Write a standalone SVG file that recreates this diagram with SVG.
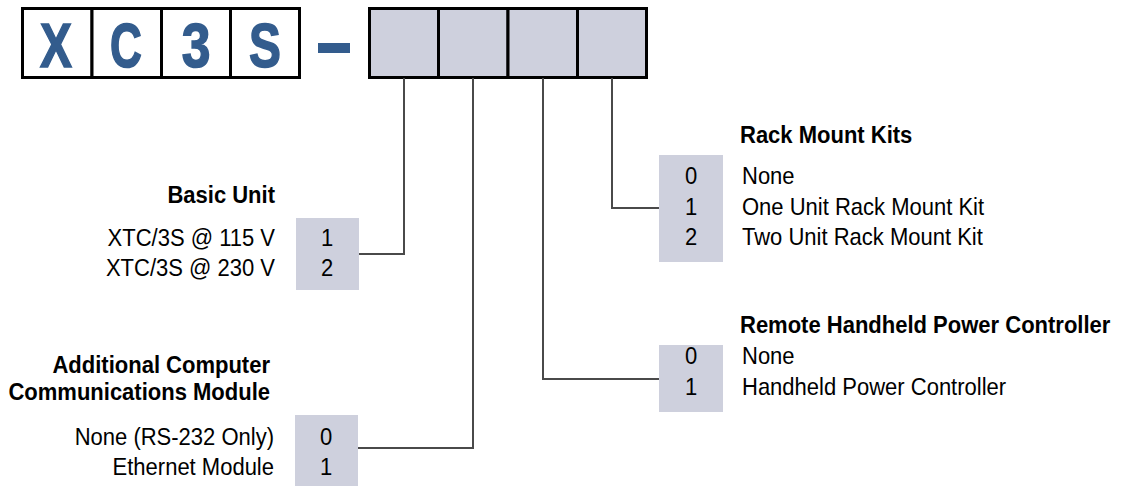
<svg xmlns="http://www.w3.org/2000/svg" width="1124" height="486" viewBox="0 0 1124 486">
  <style>
    .cell { fill: #ffffff; stroke: #000000; stroke-width: 3; }
    .slot { fill: #ced0dd; stroke: #000000; stroke-width: 3; }
    .opt { fill: #ced0dd; stroke: none; }
    .big { font-family: "Liberation Sans", Arial, sans-serif; font-weight: bold; font-size: 63px; fill: #335c8d; stroke: #335c8d; stroke-width: 1.6; text-anchor: middle; }
    .head { font-family: "Liberation Sans", Arial, sans-serif; font-weight: bold; font-size: 24px; fill: #000000; }
    .txt { font-family: "Liberation Sans", Arial, sans-serif; font-size: 24px; fill: #000000; }
    .num { font-family: "Liberation Sans", Arial, sans-serif; font-size: 24px; fill: #000000; text-anchor: middle; }
    .end { text-anchor: end; }
    .link { fill: none; stroke: #4a4a4a; stroke-width: 2; }
  </style>

  <!-- fixed model prefix XC3S -->
  <g id="prefix">
    <rect class="cell" x="22.5" y="8.5" width="69.5" height="69"/>
    <rect class="cell" x="92" y="8.5" width="69.5" height="69"/>
    <rect class="cell" x="161.5" y="8.5" width="69" height="69"/>
    <rect class="cell" x="230.5" y="8.5" width="69" height="69"/>
    <text class="big" transform="translate(56,67) scale(0.76,1)">X</text>
    <text class="big" transform="translate(126,67) scale(0.7,1)">C</text>
    <text class="big" transform="translate(196,67) scale(0.82,1)">3</text>
    <text class="big" transform="translate(265,67) scale(0.76,1)">S</text>
  </g>

  <g id="dash">
    <rect x="318" y="43" width="32" height="10" fill="#335c8d"/>
  </g>

  <!-- option slots -->
  <g id="slots">
    <rect class="slot" x="369.5" y="8.5" width="69" height="69"/>
    <rect class="slot" x="438.5" y="8.5" width="69.5" height="69"/>
    <rect class="slot" x="508" y="8.5" width="69.5" height="69"/>
    <rect class="slot" x="577.5" y="8.5" width="69" height="69"/>
  </g>

  <!-- connectors -->
  <g id="connectors">
    <path class="link" d="M404 78 V254 H359"/>
    <path class="link" d="M473 78 V448 H358"/>
    <path class="link" d="M543 78 V379 H659"/>
    <path class="link" d="M612 78 V208 H659"/>
  </g>

  <!-- labels use a narrowed face: 24px glyphs squeezed to 22px advance -->
  <g id="basic-unit">
    <text class="head end" transform="translate(275,203) scale(0.917,1)">Basic Unit</text>
    <rect class="opt" x="296" y="218" width="63" height="72"/>
    <text class="txt end" transform="translate(275,246) scale(0.917,1)">XTC/3S @ 115 V</text>
    <text class="txt end" transform="translate(275,276) scale(0.917,1)">XTC/3S @ 230 V</text>
    <text class="num" transform="translate(327,246) scale(0.917,1)">1</text>
    <text class="num" transform="translate(327,276) scale(0.917,1)">2</text>
  </g>

  <g id="comm-module">
    <text class="head end" transform="translate(270,373) scale(0.917,1)">Additional Computer</text>
    <text class="head end" transform="translate(270,400) scale(0.917,1)">Communications Module</text>
    <rect class="opt" x="295" y="415" width="63" height="71"/>
    <text class="txt end" transform="translate(274,445) scale(0.917,1)">None (RS-232 Only)</text>
    <text class="txt end" transform="translate(274,475) scale(0.917,1)">Ethernet Module</text>
    <text class="num" transform="translate(326,445) scale(0.917,1)">0</text>
    <text class="num" transform="translate(326,475) scale(0.917,1)">1</text>
  </g>

  <g id="rack-mount">
    <text class="head" transform="translate(740,143) scale(0.917,1)">Rack Mount Kits</text>
    <rect class="opt" x="659" y="155" width="64" height="107"/>
    <text class="num" transform="translate(691,184) scale(0.917,1)">0</text>
    <text class="num" transform="translate(691,215) scale(0.917,1)">1</text>
    <text class="num" transform="translate(691,245) scale(0.917,1)">2</text>
    <text class="txt" transform="translate(742,184) scale(0.917,1)">None</text>
    <text class="txt" transform="translate(742,215) scale(0.917,1)">One Unit Rack Mount Kit</text>
    <text class="txt" transform="translate(742,245) scale(0.917,1)">Two Unit Rack Mount Kit</text>
  </g>

  <g id="remote-controller">
    <text class="head" transform="translate(740,333) scale(0.917,1)">Remote Handheld Power Controller</text>
    <rect class="opt" x="659" y="345" width="64" height="67"/>
    <text class="num" transform="translate(691,364) scale(0.917,1)">0</text>
    <text class="num" transform="translate(691,395) scale(0.917,1)">1</text>
    <text class="txt" transform="translate(742,364) scale(0.917,1)">None</text>
    <text class="txt" transform="translate(742,395) scale(0.917,1)">Handheld Power Controller</text>
  </g>
</svg>
